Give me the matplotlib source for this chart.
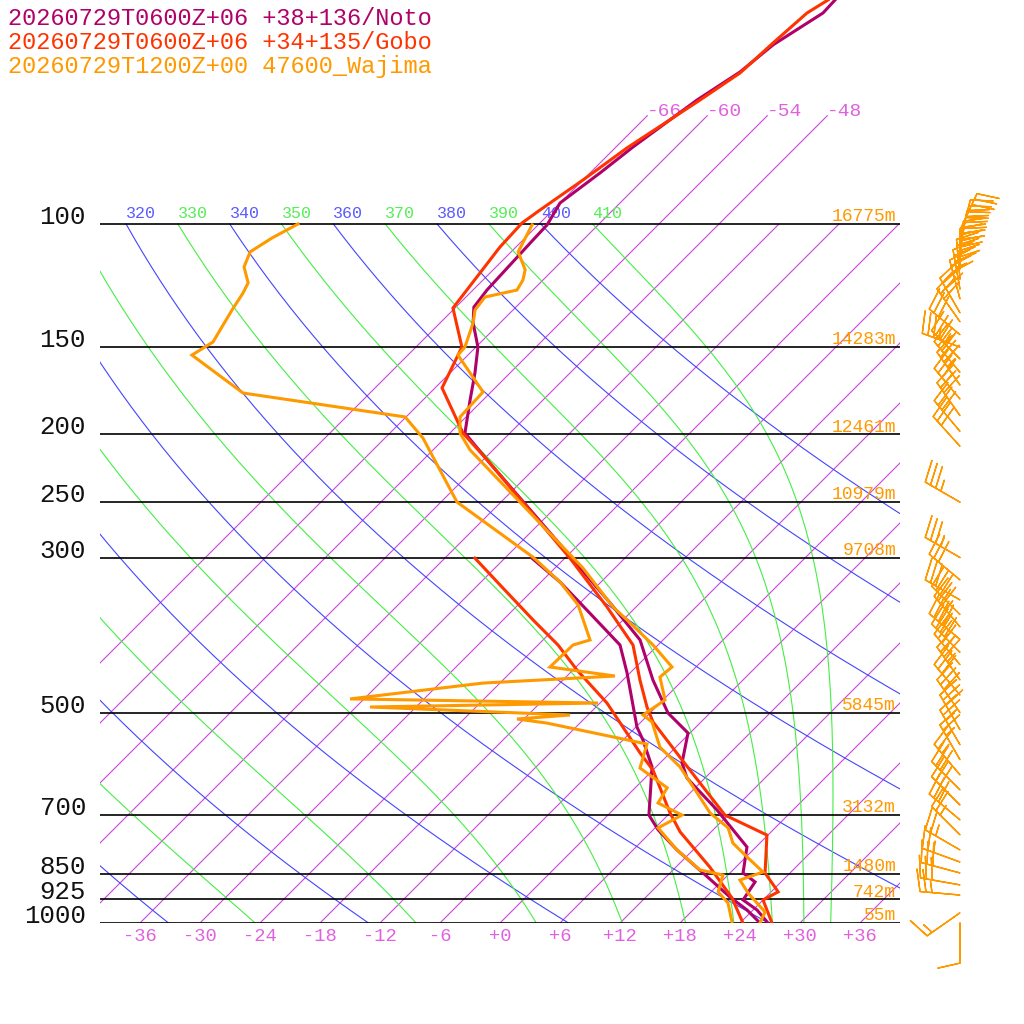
import numpy as np
import matplotlib
matplotlib.use('Agg')
from matplotlib import pyplot as plt

# ---- sounding data (pressure hPa, temperature C) ----
noto_t_p = [47.8, 49.9, 55.4, 60.6, 66.5, 77.6, 84.5, 93.3, 100.3, 105.4, 124.3, 131.5, 138.5,
            150.0, 163.4, 178.5, 199.1, 217.5, 300.6, 348.4, 393.6, 449.2, 500.7, 534.8, 590.3,
            620.3, 689.2, 778.6, 848.0, 873.5, 926.9, 958.0, 1000.0]
noto_t = [-58.8, -58.7, -60.5, -61.1, -62.6, -64.3, -65.0, -66.0, -65.1, -65.0, -64.6, -64.2, -62.7,
          -59.8, -57.5, -55.3, -52.5, -47.6, -29.3, -21.0, -14.3, -9.0, -4.2, -0.2, 2.2,
          4.2, 10.4, 17.1, 19.3, 21.4, 22.0, 24.4, 26.8]
noto_td_p = [300.6, 325.2, 348.4, 400.2, 438.8, 524.4, 547.3, 598.1, 700.8, 735.8, 786.2, 848.0,
             918.1, 958.0, 1000.0]
noto_td = [-33.3, -28.1, -24.0, -15.8, -12.3, -5.9, -4.0, -0.4, 4.1, 6.5, 10.4, 15.3,
           20.4, 23.4, 26.0]

gobo_t_p = [47.8, 49.9, 55.1, 60.8, 66.5, 77.8, 86.5, 95.5, 99.7, 107.9, 131.9, 150.0, 171.6,
            199.1, 217.5, 300.6, 353.1, 400.2, 449.2, 490.9, 515.7, 584.4, 700.8, 748.5, 848.0,
            902.5, 926.9, 1000.0]
gobo_t = [-59.5, -60.3, -60.7, -61.0, -62.3, -64.8, -66.0, -67.3, -67.8, -67.6, -66.2, -61.4, -59.3,
          -52.7, -47.6, -29.5, -20.9, -14.5, -10.3, -6.9, -4.8, 1.9, 11.7, 17.9, 21.5,
          24.7, 24.0, 27.2]
gobo_td_p = [300.6, 328.4, 368.5, 400.2, 434.6, 484.5, 571.1, 604.2, 695.9, 740.7, 831.9, 920.9, 1000.0]
gobo_td = [-39.0, -33.8, -27.0, -22.0, -17.6, -11.3, -3.0, 0.0, 6.0, 8.9, 15.4, 20.7, 24.3]

wajima_t_p = [100.3, 109.6, 116.3, 120.3, 124.3, 127.2, 132.7, 138.5, 150.0, 154.0, 173.9, 188.8,
              199.1, 210.5, 310.6, 353.1, 368.5, 400.2, 430.3, 444.8, 479.6, 504.0, 515.7, 560.2,
              598.1, 651.5, 695.9, 731.0, 768.6, 804.5, 845.3, 868.1, 905.8, 964.4, 1000.0]
wajima_t = [-66.6, -65.3, -62.8, -62.0, -61.6, -64.1, -63.8, -62.7, -61.1, -61.0, -54.8, -54.6,
            -53.0, -50.3, -27.2, -20.3, -17.6, -12.5, -8.4, -8.6, -5.8, -6.5, -4.9, -1.6,
            2.4, 6.7, 10.0, 13.3, 15.3, 18.1, 21.2, 19.7, 21.8, 25.4, 26.0]
wajima_td_p = [100.0, 104.7, 109.6, 115.2, 121.4, 125.5, 132.7, 139.4, 147.5, 154.0, 174.5, 188.8,
               202.4, 249.9, 299.6, 312.6, 325.2, 350.7, 393.6, 400.2, 430.3, 443.3, 453.7, 478.0,
               484.5, 490.9, 504.0, 510.7, 517.6, 554.6, 600.2, 640.6, 673.4, 700.8, 731.0, 786.2,
               839.6, 853.9, 902.5, 936.3, 996.7]
wajima_td = [-90.1, -91.3, -92.1, -91.2, -89.2, -88.7, -88.1, -87.5, -86.8, -87.6, -78.7, -60.1,
             -56.2, -46.4, -33.3, -30.6, -28.1, -24.0, -19.3, -20.5, -20.6, -13.2, -25.7, -37.4,
             -12.2, -34.6, -13.8, -18.7, -15.3, -3.2, -1.5, 3.2, 3.8, 7.4, 6.3, 10.4,
             14.7, 17.5, 18.7, 20.8, 23.1]

# Wajima winds (hPa, direction deg, speed kt)
wind_p = [102, 105, 109, 113, 116, 120, 124, 128, 134, 138, 144, 150, 156, 163, 170, 178,
          188, 198, 208, 250, 300, 323, 345, 362, 377, 393, 410, 427, 449, 472, 500, 529,
          556, 584, 614, 645, 678, 712, 748, 786, 818, 848, 882, 912, 967, 1000]
wind_dir = [25, 15, 10, 5, 0, 355, 350, 345, 330, 325, 310, 290, 315, 320, 325, 320,
            325, 320, 318, 300, 300, 310, 300, 315, 320, 310, 315, 320, 325, 320, 325, 330,
            330, 330, 320, 315, 315, 310, 315, 300, 290, 285, 280, 275, 235, 180]
wind_kt = [35, 40, 40, 45, 40, 40, 35, 30, 30, 30, 30, 35, 35, 30, 35, 35,
           30, 30, 30, 35, 35, 30, 30, 35, 35, 40, 40, 35, 35, 30, 30, 30,
           25, 25, 25, 30, 30, 30, 25, 25, 25, 30, 30, 25, 15, 10]

p_levels = [100, 150, 200, 250, 300, 500, 700, 850, 925, 1000]
heights = ['16775m', '14283m', '12461m', '10979m', '9708m', '5845m', '3132m', '1480m', '742m', '55m']

legend_lines = ['20260729T0600Z+06 +38+136/Noto',
                '20260729T0600Z+06 +34+135/Gobo',
                '20260729T1200Z+00 47600_Wajima']

C_NOTO = '#b0006a'
C_GOBO = '#ff3300'
C_WAJ = '#ff9900'
C_ISO = '#cc44dd'
C_ISO_TXT = '#e060e0'
C_DRY = '#4444ff'
C_MOIST = '#44ee44'

SKEW = 69.9
P_TOP = 1000 / 10 ** (923 / 699)
FONT = 'Liberation Mono'


def skx(t, p):
    return np.asarray(t, float) + SKEW * np.log10(1000.0 / np.asarray(p, float))


def moist_profile(theta, ps):
    rd, cp, lv, eps = 287.04, 1005.7, 2.501e6, 0.622

    def rate(t, p):
        es = 6.112 * np.exp(17.67 * (t - 273.15) / (t - 29.65))
        rs = eps * es / (p - es)
        return (rd * t + lv * rs) / (cp + lv * lv * rs * eps / (rd * t * t))

    t = theta * (ps[0] / 1000.0) ** (rd / cp)
    out = [t]
    for p0, p1 in zip(ps[:-1], ps[1:]):
        h = np.log(p1 / p0)
        k1 = rate(t, p0)
        k2 = rate(t + h * k1, p1)
        t = t + h * 0.5 * (k1 + k2)
        out.append(t)
    return np.array(out) - 273.15


plt.rcParams['font.family'] = [FONT, 'DejaVu Sans Mono']
fig = plt.figure(figsize=(10.24, 10.24), dpi=100)
ax = fig.add_axes([100 / 1024, 101 / 1024, 800 / 1024, 923 / 1024])
ax.set_yscale('log')
ax.set_xlim(-40, 40)
ax.set_ylim(1000, P_TOP)
ax.axis('off')

pp = np.geomspace(100, 1000, 200)
kappa = 287.04 / 1005.7

# isotherms
for t in range(-66, 37, 6):
    top = 70 if t <= -48 else 100
    ps = np.array([1000, top])
    ax.plot(skx([t, t], ps), ps, color=C_ISO, lw=0.8, zorder=1)
    if t <= -48:
        ax.text(skx(t, 70), 70, '%+d' % t, color=C_ISO_TXT, fontsize=14, ha='left', va='baseline')

# dry adiabats
for th in range(200, 401, 20):
    tt = th * (pp / 1000) ** kappa - 273.15
    ax.plot(skx(tt, pp), pp, color=C_DRY, lw=0.8, zorder=1)
    ax.annotate(str(th), xy=(skx(tt[0], 100), 100), xytext=(0, 4), textcoords='offset points',
                color='#5a5aff', fontsize=12, ha='left', va='baseline', clip_on=True)

# moist adiabats
for th in range(250, 411, 20):
    tt = moist_profile(th, pp)
    ax.plot(skx(tt, pp), pp, color=C_MOIST, lw=0.8, zorder=1)
    ax.annotate(str(th), xy=(skx(tt[0], 100), 100), xytext=(0, 4), textcoords='offset points',
                color='#55ee55', fontsize=12, ha='left', va='baseline', clip_on=True)

# pressure lines and labels
ax.hlines(p_levels, -40, 40, color='black', lw=1.2, zorder=2)
for p, h in zip(p_levels, heights):
    ax.annotate(str(p), xy=(0, p), xycoords=('axes fraction', 'data'), xytext=(-10, 0),
                textcoords='offset points', ha='right', va='baseline', fontsize=18.5,
                color='#111111', annotation_clip=False)
    ax.annotate(h, xy=(39.6, p), xytext=(0, 2), textcoords='offset points', ha='right',
                va='baseline', fontsize=13, color=C_WAJ)

# temperature labels along the bottom
for t in range(-36, 37, 6):
    ax.annotate('%+d' % t if t != 0 else '+0', xy=(t, 1000), xytext=(0, -9.5),
                textcoords='offset points', ha='center', va='center', fontsize=13.5,
                color=C_ISO_TXT, annotation_clip=False)

# profiles
for (tp, tv, dp, dv, col) in [(noto_t_p, noto_t, noto_td_p, noto_td, C_NOTO),
                              (gobo_t_p, gobo_t, gobo_td_p, gobo_td, C_GOBO),
                              (wajima_t_p, wajima_t, wajima_td_p, wajima_td, C_WAJ)]:
    ax.plot(skx(tv, tp), tp, color=col, lw=2.2, zorder=3, solid_joinstyle='miter')
    ax.plot(skx(dv, dp), dp, color=col, lw=2.2, zorder=3, solid_joinstyle='miter')

# wind barbs
wd = np.radians(wind_dir)
u = -np.array(wind_kt) * np.sin(wd)
v = -np.array(wind_kt) * np.cos(wd)
ax.barbs(np.full(len(wind_p), 46.0), wind_p, u, v, color=C_WAJ, length=7.6, linewidth=1,
         sizes=dict(height=0.55, spacing=0.15), clip_on=False, zorder=3)

for i, (txt, col) in enumerate(zip(legend_lines, [C_NOTO, C_GOBO, C_WAJ])):
    fig.text(8 / 1024, 1 - (25 + 24 * i) / 1024, txt, color=col, fontsize=17, ha='left',
             va='baseline')

fig.savefig('out.png', dpi=100, facecolor='white')
